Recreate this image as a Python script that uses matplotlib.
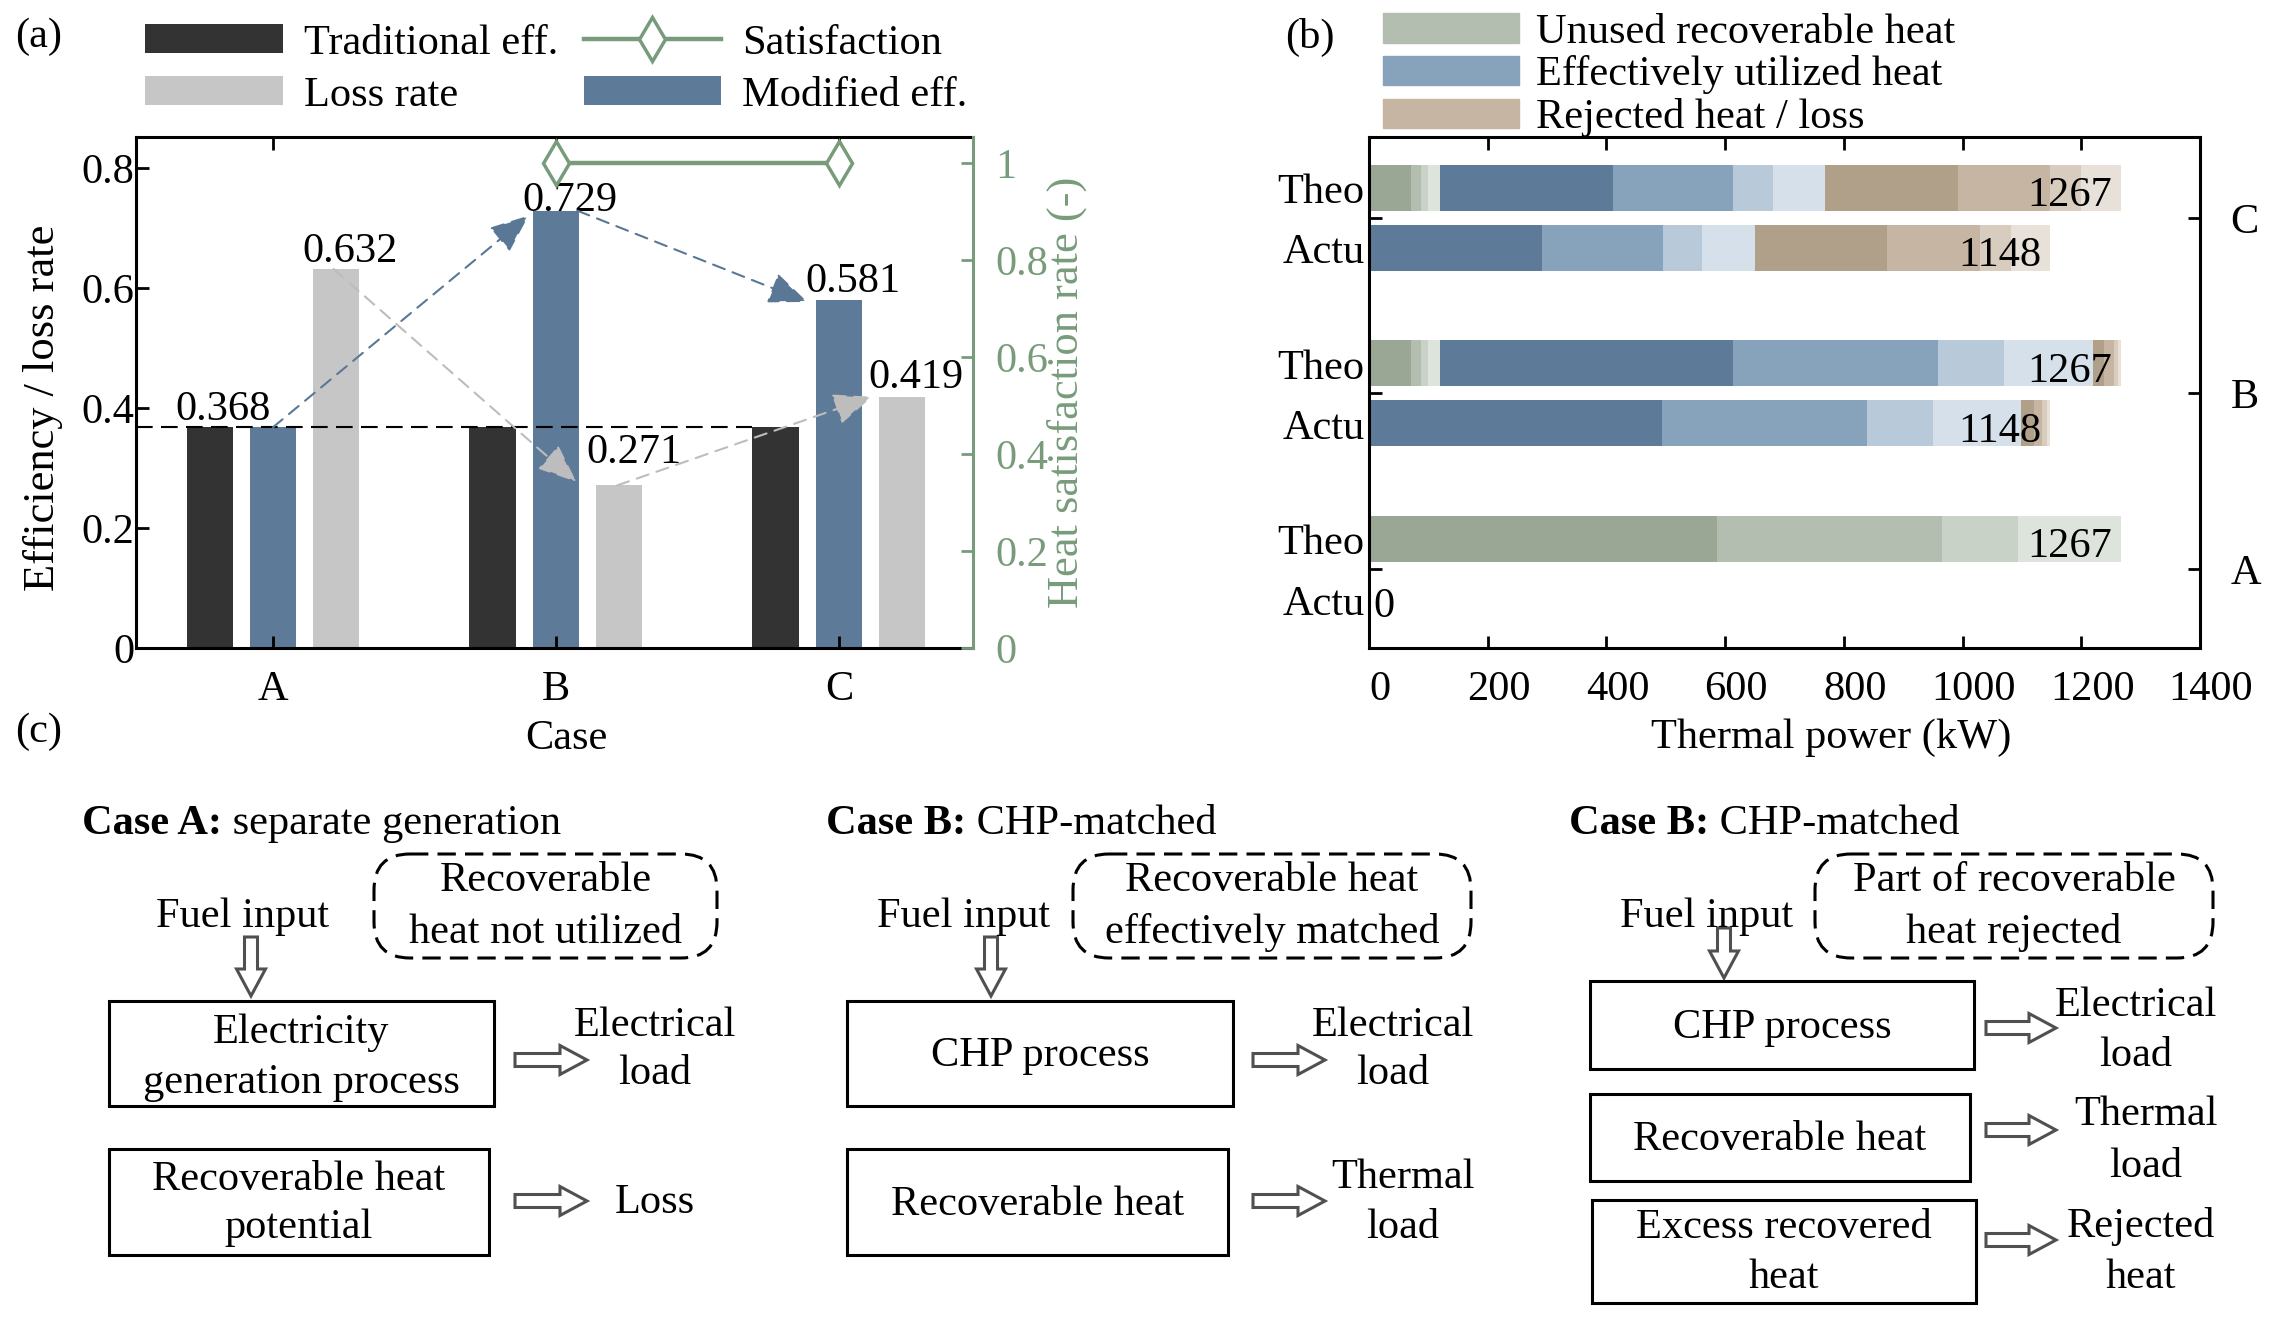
import numpy as np
import matplotlib
matplotlib.use('Agg')
import matplotlib.pyplot as plt
import matplotlib.transforms as mtransforms
from matplotlib.patches import Rectangle, FancyBboxPatch, FancyArrow, Patch
from matplotlib.ticker import FuncFormatter

plt.rcParams['font.family'] = ['Liberation Serif', 'DejaVu Serif']
plt.rcParams['font.size'] = 30.5

# ---- (a) efficiency / loss rate per case
cases = ['A', 'B', 'C']
trad_eff = [0.368, 0.368, 0.368]
mod_eff = [0.368, 0.729, 0.581]
loss_rate = [0.632, 0.271, 0.419]
satisfaction = [np.nan, 1.0, 1.0]

# ---- (b) thermal power (kW), bars in order A-Theo, A-Actu, B-Theo, B-Actu, C-Theo, C-Actu
bar_names = ['Theo', 'Actu', 'Theo', 'Actu', 'Theo', 'Actu']
unused_heat = [[585.6, 379.3, 128.9, 173.2], [0, 0, 0, 0],
               [70, 17, 13, 19], [0, 0, 0, 0],
               [70, 17, 13, 19], [0, 0, 0, 0]]
effective_heat = [[0, 0, 0, 0], [0, 0, 0, 0],
                  [494, 346, 111, 150], [494, 345, 112, 148],
                  [292, 202, 67, 89], [291, 204, 66, 89]]
rejected_heat = [[0, 0, 0, 0], [0, 0, 0, 0],
                 [18, 17, 6.5, 5.5], [21, 14, 8, 6],
                 [224, 155, 52, 67], [223, 156, 52, 67]]
total_power = [1267, 0, 1267, 1148, 1267, 1148]
power_ticks = [0, 200, 400, 600, 800, 1000, 1200, 1400]

BLACK = '#333333'
BLUE = '#5d7a98'
GRAY = '#c6c6c6'
GREEN = '#789c7b'
GREENS = ['#9ba795', '#b3bdb0', '#c9d2c7', '#dde4db']
BLUES = ['#5d7a98', '#87a3bb', '#b8c9d9', '#d6e0ea']
BROWNS = ['#b09f89', '#c5b5a2', '#d8ccbf', '#e7e1da']

W, H = 2271, 1320
fig = plt.figure(figsize=(W / 100, H / 100), dpi=100)


def px_rect(l, t, r, b):
    return [l / W, 1 - b / H, (r - l) / W, (b - t) / H]


# overlay in pixel coordinates for panel labels and the flow charts
axc = fig.add_axes([0, 0, 1, 1])
axc.set_xlim(0, W)
axc.set_ylim(H, 0)
axc.axis('off')

# ================= (a)
ax = fig.add_axes(px_rect(136, 137, 973, 648))
x = np.arange(1, len(cases) + 1)
gap, bw = 0.224, 0.163
b_trad = ax.bar(x - gap, trad_eff, bw, color=BLACK)
b_mod = ax.bar(x, mod_eff, bw, color=BLUE)
b_loss = ax.bar(x + gap, loss_rate, bw, color=GRAY)
ax.set_xlim(0.516, 3.474)
ax.set_ylim(0, 0.852)
ax.set_xticks(x, cases)
ax.set_yticks([0, 0.2, 0.4, 0.6, 0.8])
ax.yaxis.set_major_formatter(FuncFormatter(lambda v, p: f'{v:g}'))
ax.tick_params(axis='x', direction='in', length=9, width=2, top=True, pad=16)
ax.tick_params(axis='y', direction='in', length=9, width=2, pad=1)
for s in ax.spines.values():
    s.set_linewidth(2.2)
ax.spines['right'].set_visible(False)
ax.set_xlabel('Case', va='center')
ax.xaxis.set_label_coords(0.514, -0.178)
ax.set_ylabel('Efficiency / loss rate', va='center', fontsize=32)
ax.yaxis.set_label_coords(-0.111, 0.47)

# reference line of traditional efficiency
ax.plot([ax.get_xlim()[0], x[2] - gap - bw / 2], [trad_eff[0]] * 2,
        color='black', lw=1.5, dashes=(8, 4))

# value labels
label_off = {('m', 0): (-0.177, 0.012), ('l', 0): (0.05, 0.012),
             ('m', 1): (0.05, 0.0), ('l', 1): (0.05, 0.037),
             ('m', 2): (0.05, 0.012), ('l', 2): (0.05, 0.015)}
for i in range(len(cases)):
    dx, dy = label_off[('m', i)]
    ax.text(x[i] + dx, mod_eff[i] + dy, f'{mod_eff[i]:.3f}', ha='center', va='baseline')
    dx, dy = label_off[('l', i)]
    ax.text(x[i] + gap + dx, loss_rate[i] + dy, f'{loss_rate[i]:.3f}', ha='center', va='baseline')


def dashed_arrow(start, end, color):
    ax.annotate('', xy=end, xytext=start,
                arrowprops=dict(arrowstyle='-|>,head_length=1.1,head_width=0.45',
                                color=color, lw=1.5, ls=(0, (6, 4)),
                                shrinkA=0, shrinkB=0, mutation_scale=22))


dashed_arrow((x[0], mod_eff[0]), (x[1] - bw / 2 - 0.015, mod_eff[1] - 0.008), '#5a7896')
dashed_arrow((x[1] + bw / 2 - 0.005, mod_eff[1]), (x[2] - bw / 2 - 0.03, mod_eff[2] - 0.004), '#5a7896')
dashed_arrow((x[0] + gap - 0.01, loss_rate[0]), (x[1] + gap - bw / 2 - 0.07, loss_rate[1] + 0.006), '#bdbdbd')
dashed_arrow((x[1] + gap - 0.008, loss_rate[1]), (x[2] + gap - bw / 2 - 0.025, loss_rate[2]), '#bdbdbd')

ax2 = ax.twinx()
ax2.set_ylim(0, 1.054)
l_sat, = ax2.plot(x, satisfaction, color=GREEN, lw=3.2, marker='d', ms=22,
                  mfc='white', mec=GREEN, mew=2.5)
ax2.set_yticks([0, 0.2, 0.4, 0.6, 0.8, 1.0])
ax2.yaxis.set_major_formatter(FuncFormatter(lambda v, p: f'{v:g}'))
ax2.tick_params(axis='y', direction='in', length=9, width=2, colors=GREEN, pad=16)
for k in ['top', 'left', 'bottom']:
    ax2.spines[k].set_visible(False)
ax2.spines['right'].set_color(GREEN)
ax2.spines['right'].set_linewidth(2.2)
ax2.set_ylabel('Heat satisfaction rate (-)', color=GREEN, va='center', fontsize=32)
ax2.yaxis.set_label_coords(1.112, 0.5)

fig.legend([b_trad, b_loss, l_sat, b_mod],
           ['Traditional eff.', 'Loss rate', 'Satisfaction', 'Modified eff.'],
           ncol=2, loc='upper left', bbox_to_anchor=(145 / W, 1 - 24 / H),
           frameon=False, handlelength=3.25, handleheight=0.68, handletextpad=0.5,
           columnspacing=0.6, labelspacing=0.32, borderpad=0, borderaxespad=0)

# ================= (b)
axb = fig.add_axes(px_rect(1369, 137, 2200, 648))
ypos = np.array([i // 2 + 1 + (0.171 if i % 2 == 0 else -0.171) for i in range(len(bar_names))])
left = np.zeros(len(bar_names))
for series, shades in [(unused_heat, GREENS), (effective_heat, BLUES), (rejected_heat, BROWNS)]:
    arr = np.array(series, dtype=float)
    for k in range(arr.shape[1]):
        axb.barh(ypos, arr[:, k], height=0.262, left=left, color=shades[k], lw=0)
        left += arr[:, k]

for yp, tot in zip(ypos, total_power):
    if tot > 0:
        axb.text(tot - 15, yp - 0.045, f'{tot}', ha='right', va='center')
    else:
        axb.text(8, yp - 0.045, f'{tot}', ha='left', va='center')

for yp, name in zip(ypos, bar_names):
    axb.text(-0.005, yp - 0.03, name, ha='right', va='center',
             transform=axb.get_yaxis_transform())

axb.set_xlim(power_ticks[0], power_ticks[-1])
axb.set_ylim(0.55, 3.46)
axb.set_xticks(power_ticks)
axb.set_yticks(np.arange(1, len(cases) + 1), cases)
axb.tick_params(axis='x', direction='in', length=9, width=2, top=True, pad=16)
axb.tick_params(axis='y', direction='in', length=9, width=2, left=True, right=True,
                labelleft=False, labelright=True, pad=22)
for s in axb.spines.values():
    s.set_linewidth(2.2)
axb.set_xlabel('Thermal power (kW)', va='center')
axb.xaxis.set_label_coords(0.556, -0.176)
shift = mtransforms.ScaledTranslation(11 / 100, 0, fig.dpi_scale_trans)
for lab in axb.get_xticklabels():
    lab.set_transform(lab.get_transform() + shift)

fig.legend([Patch(color=GREENS[1]), Patch(color=BLUES[1]), Patch(color=BROWNS[1])],
           ['Unused recoverable heat', 'Effectively utilized heat', 'Rejected heat / loss'],
           loc='upper left', bbox_to_anchor=(1383 / W, 1 - 13 / H), frameon=False,
           handlelength=3.2, handleheight=0.7, handletextpad=0.4,
           labelspacing=0.09, borderpad=0, borderaxespad=0)

# ================= panel labels
axc.text(39, 37, '(a)', ha='center', va='center')
axc.text(1310, 37, '(b)', ha='center', va='center')
axc.text(39, 732, '(c)', ha='center', va='center')

# ================= (c) flow charts
flow_cases = [
    dict(bold='Case A:', rest=' separate generation', title=(82, 824),
         note=(374, 854, 717, 958), note_lines=['Recoverable', 'heat not utilized'],
         fuel=(243, 917), down=(251, 937, 996),
         boxes=[((109, 1001, 494, 1106), ['Electricity', 'generation process'], [1033, 1083],
                 (515, 587, 1060), 655, ['Electrical', 'load'], [1026, 1074]),
                ((109, 1149, 489, 1255), ['Recoverable heat', 'potential'], [1180, 1228],
                 (515, 587, 1201), 655, ['Loss'], [1203])]),
    dict(bold='Case B:', rest=' CHP-matched', title=(826, 824),
         note=(1073, 854, 1471, 958), note_lines=['Recoverable heat', 'effectively matched'],
         fuel=(964, 917), down=(991, 937, 996),
         boxes=[((847, 1001, 1233, 1106), ['CHP process'], [1056],
                 (1253, 1325, 1060), 1393, ['Electrical', 'load'], [1026, 1074]),
                ((847, 1149, 1228, 1255), ['Recoverable heat'], [1205],
                 (1253, 1325, 1201), 1403, ['Thermal', 'load'], [1178, 1228])]),
    dict(bold='Case B:', rest=' CHP-matched', title=(1569, 824),
         note=(1815, 854, 2213, 958), note_lines=['Part of recoverable', 'heat rejected'],
         fuel=(1707, 917), down=(1724, 928, 978),
         boxes=[((1590, 981, 1974, 1069), ['CHP process'], [1028],
                 (1986, 2056, 1028), 2136, ['Electrical', 'load'], [1006, 1056]),
                ((1590, 1094, 1970, 1181), ['Recoverable heat'], [1140],
                 (1986, 2056, 1130), 2146, ['Thermal', 'load'], [1115, 1167]),
                ((1592, 1200, 1976, 1303), ['Excess recovered', 'heat'], [1228, 1278],
                 (1986, 2056, 1240), 2141, ['Rejected', 'heat'], [1226, 1278])]),
]


def hollow_arrow(x0, y0, dx, dy):
    axc.add_patch(FancyArrow(x0, y0, dx, dy, width=13, head_width=29, head_length=27,
                             length_includes_head=True, fc='white', ec='#505050', lw=2.2))


for fc in flow_cases:
    t = axc.text(fc['title'][0], fc['title'][1], fc['bold'], fontweight='bold',
                 ha='left', va='center')
    axc.annotate(fc['rest'], xy=(1, 0), xycoords=t, ha='left', va='bottom')
    l, tp, r, b = fc['note']
    axc.add_patch(FancyBboxPatch((l, tp), r - l, b - tp,
                                 boxstyle='round,pad=0,rounding_size=36',
                                 fill=False, ec='black', lw=2.2, ls=(0, (6, 3))))
    cx = (l + r) / 2
    for s, yy in zip(fc['note_lines'], [881, 933]):
        axc.text(cx, yy, s, ha='center', va='center')
    axc.text(fc['fuel'][0], fc['fuel'][1], 'Fuel input', ha='center', va='center')
    dxp, dy0, dy1 = fc['down']
    hollow_arrow(dxp, dy0, 0, dy1 - dy0)
    for rect, lines, ys, arr, ox, olines, oys in fc['boxes']:
        l, tp, r, b = rect
        axc.add_patch(Rectangle((l, tp), r - l, b - tp, fill=False, ec='black', lw=2.2))
        for s, yy in zip(lines, ys):
            axc.text((l + r) / 2, yy, s, ha='center', va='center')
        hollow_arrow(arr[0], arr[2], arr[1] - arr[0], 0)
        for s, yy in zip(olines, oys):
            axc.text(ox, yy, s, ha='center', va='center')

fig.savefig('out.png', dpi=100)
